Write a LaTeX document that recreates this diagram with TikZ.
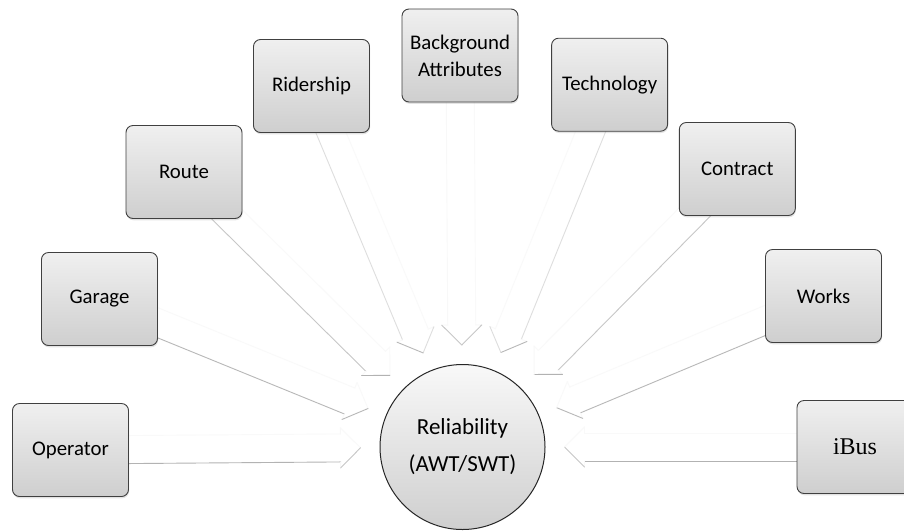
\documentclass[tikz,border=0pt]{standalone}
\usepackage{fontspec}
\setmainfont{Carlito}
\newfontfamily\romanface{Liberation Serif}
\usetikzlibrary{calc,shadows}
\pgfdeclarelayer{arrows}
\pgfsetlayers{arrows,main}

\tikzset{
  factor/.style={draw=black!75, line width=0.9pt, rounded corners=7pt,
    minimum width=116pt, minimum height=93pt, inner sep=0pt,
    top color=gray!12, bottom color=gray!38, align=center,
    font=\fontsize{20.8}{27}\selectfont, text=black,
    drop shadow={opacity=0.22, shadow xshift=0.6pt, shadow yshift=-1.8pt}},
  core/.style={circle, draw=black!85, line width=1pt, minimum size=165pt,
    inner sep=0pt, top color=gray!5, bottom color=gray!38, align=center,
    font=\fontsize{23}{37}\selectfont, text=black},
  feededge/.style={line width=0.9pt, line cap=round},
}

% one outline edge of a block arrow; #3 is the angle of its outward normal,
% edges facing down are inked darker
\newcommand\feedside[3]{%
  \pgfmathsetmacro\edgeink{5+55*max(0,-sin(#3))}%
  \draw[feededge, draw=gray!\edgeink] (#1) -- (#2);%
}

% block arrow from node #1 towards the central circle
\newcommand\feedarrow[1]{%
  \pgfpointdiff{\pgfpointanchor{#1}{center}}{\pgfpointanchor{rel}{center}}%
  \pgfgetlastxy\arrdx\arrdy
  \pgfmathsetmacro\dirang{atan2(\arrdy,\arrdx)}%
  \coordinate (t) at ($(rel.center)!102pt!(#1.center)$);
  \coordinate (b) at ($(t)!20pt!(#1.center)$);
  \coordinate (s1) at ($(#1.center)!14pt!90:(t)$);
  \coordinate (s2) at ($(#1.center)!14pt!-90:(t)$);
  \coordinate (b1) at ($(b)!14pt!90:(t)$);
  \coordinate (b2) at ($(b)!14pt!-90:(t)$);
  \coordinate (h1) at ($(b)!20pt!90:(t)$);
  \coordinate (h2) at ($(b)!20pt!-90:(t)$);
  \fill[white] (s1) -- (b1) -- (h1) -- (t) -- (h2) -- (b2) -- (s2) -- cycle;
  \feedside{s1}{b1}{\dirang+90}
  \feedside{s2}{b2}{\dirang-90}
  \feedside{b1}{h1}{\dirang+180}
  \feedside{b2}{h2}{\dirang+180}
  \feedside{h1}{t}{\dirang+45}
  \feedside{h2}{t}{\dirang-45}
}

\begin{document}
\begin{tikzpicture}[x=1pt,y=-1pt]
  \useasboundingbox (0,0) rectangle (904,531);
  \clip (0,0) rectangle (904,531);

  \node[core] (rel) at (462.5,447) {Reliability\\(AWT/SWT)};

  \node[factor] (op)   at (70.5,450)  {Operator};
  \node[factor] (gar)  at (99.5,299)  {Garage};
  \node[factor] (rte)  at (184,172)   {Route};
  \node[factor] (rid)  at (311.5,86)  {Ridership};
  \node[factor] (bg)   at (460,55.5)  {Background\\Attributes};
  \node[factor] (tech) at (609.6,84.7){Technology};
  \node[factor] (con)  at (737.3,169) {Contract};
  \node[factor] (wrk)  at (823.5,296) {Works};
  \node[factor, font=\romanface\fontsize{24}{28}\selectfont] (ibus) at (855,447) {iBus};

  \begin{pgfonlayer}{arrows}
    \fill[white] (0,0) rectangle (904,531);
    \foreach \src in {op,gar,rte,rid,bg,tech,con,wrk,ibus}
      {\feedarrow{\src}}
  \end{pgfonlayer}
\end{tikzpicture}
\end{document}
